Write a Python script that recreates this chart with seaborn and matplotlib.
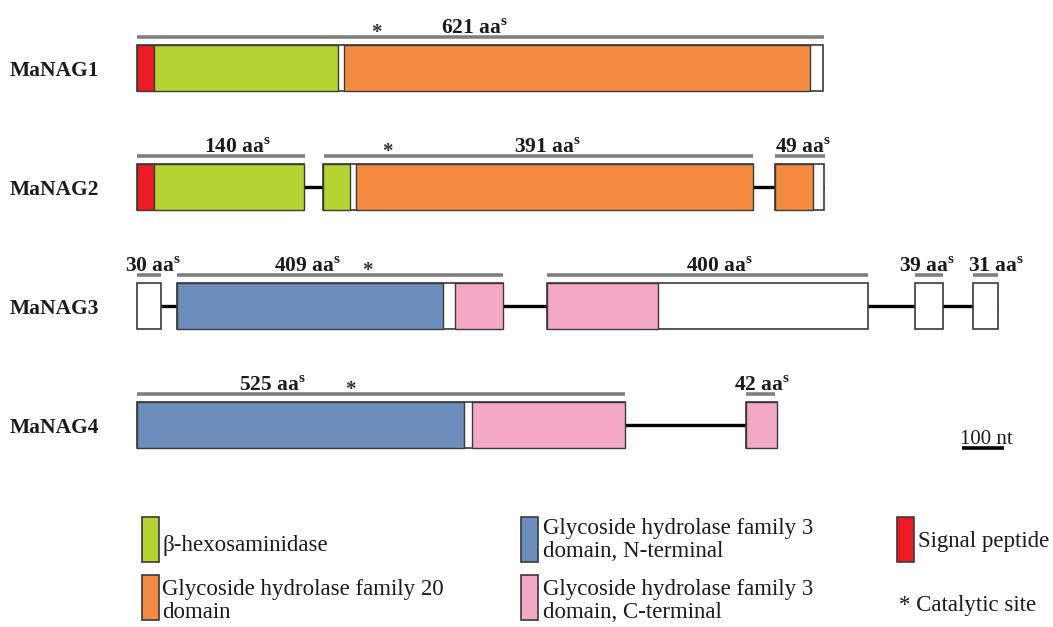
import matplotlib
matplotlib.use("Agg")
import matplotlib.pyplot as plt
import seaborn as sns
from matplotlib.patches import Rectangle

sns.set_theme(style="white")
plt.rcParams["font.family"] = ["Liberation Serif", "DejaVu Serif"]
plt.rcParams["mathtext.fontset"] = "custom"
plt.rcParams["mathtext.rm"] = "Liberation Serif"
plt.rcParams["mathtext.bf"] = "Liberation Serif:bold"

# ---- gene models (coordinates in nt from the start of the first exon) ----
genes = ["MaNAG1", "MaNAG2", "MaNAG3", "MaNAG4"]

exon_gene = [0, 1, 1, 1, 2, 2, 2, 2, 2, 3, 3]
exon_start = [0, 0, 446, 1531, 0, 96, 984, 1867, 2006, 0, 1462]
exon_end = [1646, 401, 1478, 1649, 58, 878, 1754, 1934, 2066, 1171, 1536]

domain_gene = [0, 0, 0, 1, 1, 1, 1, 1, 2, 2, 2, 3, 3, 3]
domain_start = [0, 41, 497, 0, 41, 446, 526, 1531, 96, 763, 984, 0, 804, 1462]
domain_end = [41, 482, 1615, 41, 401, 511, 1478, 1622, 734, 878, 1250, 785, 1171, 1536]
domain_kind = ["sig", "hex", "gh20", "sig", "hex", "hex", "gh20", "gh20",
               "gh3n", "gh3c", "gh3c", "gh3n", "gh3c", "gh3c"]

# amino-acid spans drawn as bars above the exons
span_gene = [0, 1, 1, 1, 2, 2, 2, 2, 2, 3, 3]
span_start = [0, 0, 449, 1531, 0, 96, 984, 1867, 2006, 0, 1462]
span_end = [1649, 403, 1478, 1651, 58, 878, 1754, 1934, 2066, 1171, 1531]
span_aa = [621, 140, 391, 49, 30, 409, 400, 39, 31, 525, 42]
span_label_x = [809, 240, 986, 1598, 38, 410, 1399, 1896, 2062, 324, 1500]

# catalytic sites
cat_site = [574, 600, 552, 511]

kind_color = {
    "sig": "#ED1C24",
    "hex": "#B6D334",
    "gh20": "#F38B42",
    "gh3n": "#6D8EBD",
    "gh3c": "#F3A9C6",
}

NT_PER_PX = 2.4
ROW_PX = 119.0
TOP_PX = 68.0
W, H = 1053, 627

fig = plt.figure(figsize=(W / 100, H / 100), dpi=100)
ax = fig.add_axes([0, 0, 1, 1])
ax.set_xlim(-137 * NT_PER_PX, (W - 137) * NT_PER_PX)
ax.set_ylim((H - TOP_PX) / ROW_PX, -TOP_PX / ROW_PX)
ax.axis("off")

bar_h = 46 / ROW_PX
px = 1 / ROW_PX
edge = "#3a3a3a"
txt = "#1b1b1b"

# introns: a line from the first to the last exon of each gene
for g in range(len(genes)):
    starts = [s for s, gi in zip(exon_start, exon_gene) if gi == g]
    ends = [e for e, gi in zip(exon_end, exon_gene) if gi == g]
    if len(starts) > 1:
        ax.hlines(g, min(starts), max(ends), color="black", lw=2.4, zorder=1)

# exons (white boxes)
ax.barh(exon_gene, [e - s for s, e in zip(exon_start, exon_end)], left=exon_start,
        height=bar_h, color="white", edgecolor=edge, linewidth=1.2, zorder=2)

# domains
ax.barh(domain_gene, [e - s for s, e in zip(domain_start, domain_end)], left=domain_start,
        height=bar_h, color=[kind_color[k] for k in domain_kind],
        edgecolor=edge, linewidth=1.0, zorder=3)

# gene names
for g, name in enumerate(genes):
    ax.text(-127 * NT_PER_PX, g + 3 * px, name, ha="left", va="center",
            fontsize=15.5, fontweight="bold", color=txt)

# amino-acid span bars and labels
for g, s, e, aa, lx in zip(span_gene, span_start, span_end, span_aa, span_label_x):
    ytop = g - bar_h / 2
    ax.hlines(ytop - 8 * px, s, e, color="#7f7f7f", lw=2.6, zorder=2)
    ax.text(lx, ytop - 11 * px, f"{aa} aa$^{{\\mathbf{{s}}}}$", ha="center",
            va="baseline", fontsize=15.5, fontweight="bold", color=txt, zorder=4)

# catalytic sites
for g, c in enumerate(cat_site):
    ax.text(c, g - bar_h / 2 - 12 * px, "*", ha="center", va="center",
            fontsize=15, fontweight="bold", color="#333333")

# scale bar: 100 nt
sb_start = 1980
sb_len = 100
sb_y = 3 + 22.5 * px
ax.hlines(sb_y, sb_start, sb_start + sb_len, color="black", lw=2.6)
ax.text(sb_start + sb_len / 2 + 8, sb_y - 4 * px, "100 nt", ha="center", va="baseline",
        fontsize=15, color=txt)

# ---- legend (figure pixel coordinates) ----
lax = fig.add_axes([0, 0, 1, 1])
lax.set_xlim(0, W)
lax.set_ylim(H, 0)
lax.axis("off")

legend_items = [
    ("hex", 142, 517, "β-hexosaminidase", 162, 546),
    ("gh20", 142, 575, "Glycoside hydrolase family 20\ndomain", 162, 601),
    ("gh3n", 521, 517, "Glycoside hydrolase family 3\ndomain, N-terminal", 543, 540),
    ("gh3c", 521, 575, "Glycoside hydrolase family 3\ndomain, C-terminal", 543, 601),
    ("sig", 897, 517, "Signal peptide", 918, 542),
]
for kind, x0, y0, label, tx, ty in legend_items:
    lax.add_patch(Rectangle((x0, y0), 17, 45, facecolor=kind_color[kind],
                            edgecolor=edge, linewidth=1.2))
    lax.text(tx, ty, label, ha="left", va="center", fontsize=16.5, color=txt,
             linespacing=1.18)

lax.text(899, 605, "* Catalytic site", ha="left", va="center", fontsize=16.5, color=txt)

fig.savefig("out.png", dpi=100, facecolor="white")
